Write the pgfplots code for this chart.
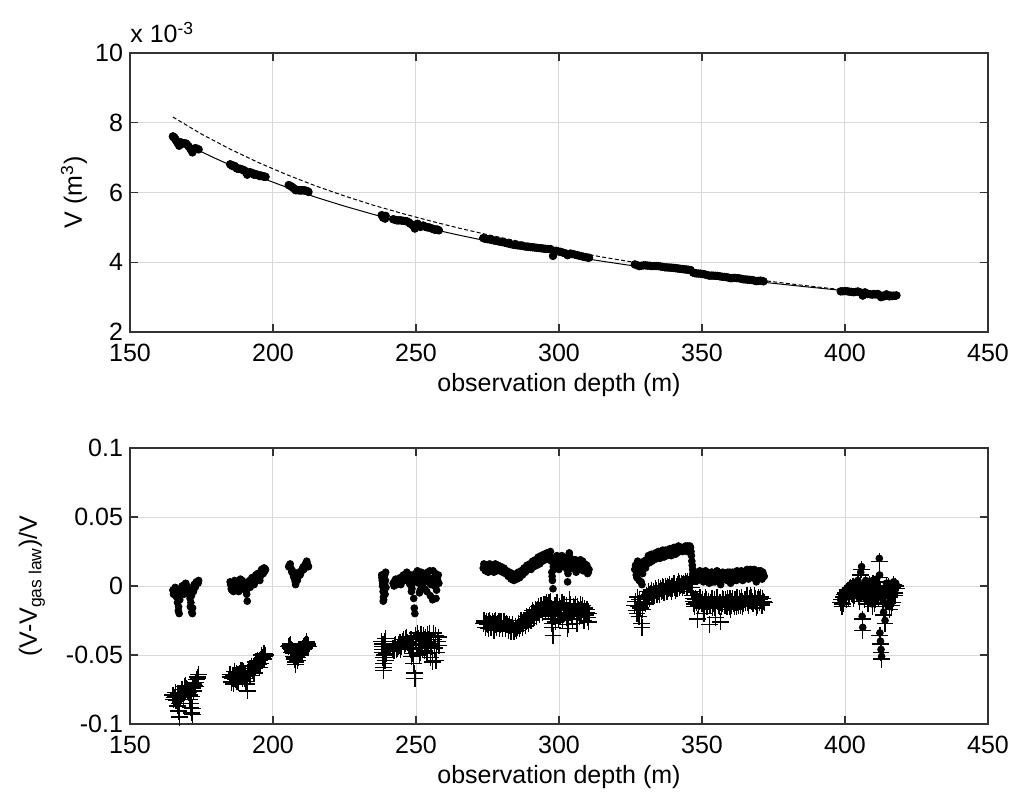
\documentclass[border=0pt]{standalone}
\usepackage{pgfplots}
\usepackage{pgfplotstable}
\pgfplotsset{compat=1.18}
\usepackage{fontspec}
\setmainfont{Liberation Sans}

% residuals: depth, (V-Vfit)/V (dots), (V-Vgas)/V (pluses)
\pgfplotstableread[row sep=\\]{
d rd rp\\
165.0 -0.003 -0.079\\ 165.5 -0.005 -0.081\\ 166.0 -0.004 -0.080\\ 166.3 -0.008 -0.083\\
166.6 -0.012 -0.087\\ 167.0 -0.015 -0.090\\ 167.2 -0.020 -0.095\\ 167.5 -0.006 -0.081\\
168.0 -0.002 -0.077\\ 168.5 -0.004 -0.078\\ 169.0 0.001 -0.073\\ 169.5 0.002 -0.072\\
170.0 -0.001 -0.075\\ 170.5 -0.004 -0.077\\ 171.0 -0.009 -0.082\\ 171.3 -0.012 -0.085\\
171.6 -0.019 -0.092\\ 171.8 -0.020 -0.093\\ 172.2 -0.004 -0.076\\ 172.6 0.000 -0.072\\
173.0 0.002 -0.070\\ 173.5 0.003 -0.066\\ 174.0 0.004 -0.064\\
165.2 -0.006 -0.082\\ 165.8 -0.001 -0.077\\ 166.1 -0.007 -0.083\\ 166.8 -0.003 -0.078\\
167.4 -0.010 -0.085\\ 167.8 -0.004 -0.079\\ 168.2 0.000 -0.075\\ 168.8 -0.006 -0.080\\
169.2 -0.002 -0.076\\ 169.8 0.000 -0.074\\ 170.2 -0.003 -0.076\\ 170.8 -0.006 -0.079\\
171.1 -0.015 -0.088\\ 171.5 -0.007 -0.080\\ 172.0 -0.002 -0.074\\ 172.4 0.001 -0.071\\
172.8 -0.001 -0.073\\ 173.2 0.003 -0.068\\ 173.8 0.002 -0.067\\ 166.9 -0.018 -0.091\\
171.9 -0.016 -0.089\\
185.0 0.003 -0.064\\ 185.4 -0.002 -0.069\\ 185.8 0.000 -0.067\\ 186.2 -0.004 -0.071\\
186.6 0.004 -0.062\\ 187.0 0.001 -0.065\\ 187.4 -0.003 -0.069\\ 187.8 0.002 -0.064\\
188.2 0.000 -0.066\\ 188.6 0.005 -0.061\\ 189.0 0.002 -0.063\\ 189.4 -0.002 -0.067\\
189.8 0.003 -0.062\\ 190.2 0.000 -0.065\\ 190.6 -0.004 -0.069\\ 191.0 -0.011 -0.076\\
191.4 0.001 -0.063\\ 191.8 0.004 -0.060\\ 192.2 0.002 -0.062\\ 192.6 0.006 -0.058\\
193.0 0.003 -0.061\\ 193.4 0.001 -0.063\\ 193.8 0.007 -0.057\\ 194.2 0.005 -0.058\\
194.6 0.009 -0.054\\ 195.0 0.006 -0.057\\ 195.4 0.004 -0.059\\ 195.8 0.010 -0.053\\
196.2 0.011 -0.052\\ 196.6 0.009 -0.053\\ 197.0 0.013 -0.049\\ 197.4 0.012 -0.050\\
185.2 0.001 -0.066\\ 185.6 -0.003 -0.070\\ 186.0 0.002 -0.065\\ 186.4 0.000 -0.067\\
186.8 -0.002 -0.068\\ 187.2 0.003 -0.063\\ 187.6 0.000 -0.066\\ 188.0 -0.004 -0.070\\
188.4 0.003 -0.063\\ 188.8 0.001 -0.065\\ 189.2 0.004 -0.061\\ 189.6 0.000 -0.065\\
190.0 -0.002 -0.067\\ 190.4 0.002 -0.063\\ 190.8 -0.006 -0.071\\ 191.2 0.000 -0.064\\
191.6 0.003 -0.061\\ 192.0 -0.001 -0.065\\ 192.4 0.004 -0.060\\ 192.8 0.002 -0.061\\
193.2 0.005 -0.058\\ 193.6 0.003 -0.060\\ 194.0 0.008 -0.055\\ 194.4 0.006 -0.057\\
194.8 0.007 -0.056\\ 195.2 0.009 -0.054\\ 195.6 0.007 -0.056\\ 196.0 0.012 -0.050\\
196.4 0.010 -0.052\\ 196.8 0.013 -0.049\\ 197.2 0.011 -0.051\\
205.5 0.014 -0.044\\ 206.0 0.016 -0.042\\ 206.4 0.012 -0.046\\ 206.8 0.011 -0.047\\
207.2 0.007 -0.051\\ 207.6 0.005 -0.053\\ 207.9 0.001 -0.057\\ 208.3 0.009 -0.049\\
208.7 0.006 -0.052\\ 209.1 0.010 -0.048\\ 209.5 0.008 -0.050\\ 210.0 0.011 -0.047\\
210.4 0.013 -0.045\\ 210.8 0.012 -0.046\\ 211.2 0.015 -0.043\\ 211.6 0.017 -0.041\\
212.0 0.016 -0.042\\ 212.4 0.014 -0.044\\
205.7 0.015 -0.043\\ 206.2 0.013 -0.045\\ 206.6 0.010 -0.048\\ 207.0 0.009 -0.049\\
207.4 0.006 -0.052\\ 207.8 0.003 -0.055\\ 208.1 0.007 -0.051\\ 208.5 0.004 -0.054\\
208.9 0.008 -0.050\\ 209.3 0.009 -0.049\\ 209.8 0.010 -0.048\\ 210.2 0.012 -0.046\\
210.6 0.014 -0.044\\ 211.0 0.013 -0.045\\ 211.4 0.016 -0.042\\ 211.8 0.018 -0.040\\
212.2 0.015 -0.043\\
238.0 0.008 -0.040\\ 238.2 0.004 -0.044\\ 238.3 0.000 -0.048\\ 238.5 -0.004 -0.052\\
238.6 -0.008 -0.056\\ 238.7 -0.010 -0.061\\ 238.8 0.006 -0.042\\ 239.0 0.002 -0.046\\
239.1 -0.002 -0.050\\ 239.2 -0.006 -0.054\\ 239.4 0.010 -0.038\\ 239.5 -0.001 -0.049\\
238.1 0.006 -0.042\\ 238.4 0.002 -0.046\\ 238.9 -0.004 -0.052\\ 239.3 0.004 -0.044\\
238.55 -0.011 -0.059\\ 239.05 0.008 -0.040\\
242.0 0.002 -0.045\\ 242.6 0.004 -0.043\\ 243.2 0.001 -0.046\\ 243.8 0.003 -0.044\\
244.4 0.006 -0.041\\ 245.0 0.003 -0.044\\ 245.6 0.008 -0.039\\ 246.2 0.005 -0.042\\
246.8 0.010 -0.037\\ 247.4 0.004 -0.043\\ 248.0 0.001 -0.046\\ 248.4 -0.004 -0.051\\
248.8 0.002 -0.045\\ 249.2 -0.009 -0.056\\ 249.4 -0.016 -0.063\\ 249.6 -0.020 -0.067\\
250.0 0.006 -0.039\\ 250.5 0.011 -0.034\\ 251.0 0.002 -0.043\\ 251.5 -0.003 -0.048\\
252.0 0.005 -0.040\\ 252.5 0.009 -0.036\\ 253.0 -0.002 -0.047\\ 253.5 0.004 -0.041\\
254.0 0.010 -0.035\\ 254.5 0.006 -0.039\\ 255.0 -0.007 -0.052\\ 255.5 0.003 -0.042\\
256.0 0.011 -0.034\\ 256.5 0.000 -0.045\\ 257.0 -0.009 -0.054\\ 257.5 0.005 -0.040\\
258.0 0.002 -0.043\\
242.3 0.000 -0.047\\ 242.9 0.005 -0.042\\ 243.5 0.002 -0.045\\ 244.1 0.004 -0.043\\
244.7 0.001 -0.046\\ 245.3 0.007 -0.040\\ 245.9 0.004 -0.043\\ 246.5 0.009 -0.038\\
247.1 0.006 -0.041\\ 247.7 0.002 -0.045\\ 248.2 0.008 -0.039\\ 248.6 -0.002 -0.049\\
249.0 0.004 -0.043\\ 249.8 0.009 -0.036\\ 250.2 0.003 -0.042\\ 250.8 0.007 -0.038\\
251.2 -0.005 -0.050\\ 251.8 0.010 -0.035\\ 252.2 0.000 -0.045\\ 252.8 0.006 -0.039\\
253.2 0.008 -0.037\\ 253.8 -0.004 -0.049\\ 254.2 0.003 -0.042\\ 254.8 0.011 -0.034\\
255.2 0.001 -0.044\\ 255.8 -0.010 -0.055\\ 256.2 0.006 -0.039\\ 256.8 0.009 -0.036\\
257.2 -0.003 -0.048\\ 257.8 0.008 -0.037\\
273.5 0.013 -0.027\\ 274.0 0.014 -0.026\\ 274.5 0.013 -0.027\\ 275.0 0.012 -0.028\\
275.5 0.014 -0.026\\ 276.0 0.013 -0.027\\ 276.5 0.012 -0.028\\ 277.0 0.013 -0.027\\
277.5 0.014 -0.026\\ 278.0 0.012 -0.028\\ 278.5 0.013 -0.027\\ 279.0 0.014 -0.026\\
279.5 0.012 -0.028\\ 280.0 0.013 -0.027\\ 280.5 0.011 -0.027\\ 281.0 0.012 -0.026\\
281.5 0.010 -0.028\\ 282.0 0.010 -0.028\\ 282.5 0.009 -0.029\\ 283.0 0.008 -0.030\\
283.5 0.008 -0.030\\ 284.0 0.007 -0.031\\ 284.5 0.006 -0.032\\ 285.0 0.007 -0.031\\
285.5 0.008 -0.030\\ 286.0 0.009 -0.029\\ 286.5 0.009 -0.029\\ 287.0 0.011 -0.027\\
287.5 0.011 -0.027\\ 288.0 0.013 -0.025\\ 288.5 0.012 -0.026\\ 289.0 0.014 -0.024\\
289.5 0.015 -0.023\\ 290.0 0.014 -0.024\\ 290.5 0.016 -0.020\\ 291.0 0.017 -0.019\\
291.5 0.016 -0.020\\ 292.0 0.018 -0.018\\ 292.5 0.019 -0.017\\ 293.0 0.018 -0.018\\
293.5 0.020 -0.016\\ 294.0 0.021 -0.015\\ 294.5 0.020 -0.016\\ 295.0 0.022 -0.014\\
295.5 0.023 -0.013\\ 296.0 0.022 -0.014\\ 296.5 0.024 -0.012\\ 297.0 0.025 -0.011\\
297.3 0.018 -0.016\\ 297.5 0.010 -0.024\\ 297.7 0.004 -0.030\\ 297.9 -0.002 -0.036\\
298.2 0.012 -0.022\\ 298.6 0.017 -0.017\\ 299.0 0.020 -0.014\\ 299.5 0.016 -0.018\\
300.0 0.012 -0.022\\ 300.5 0.018 -0.016\\ 301.0 0.022 -0.012\\ 301.5 0.019 -0.015\\
302.0 0.014 -0.020\\ 302.5 0.020 -0.014\\ 303.0 0.003 -0.031\\ 303.3 0.015 -0.019\\
303.6 0.024 -0.010\\ 304.0 0.018 -0.016\\ 304.5 0.013 -0.021\\ 305.0 0.019 -0.015\\
305.5 0.016 -0.016\\ 306.0 0.010 -0.022\\ 306.5 0.017 -0.015\\ 307.0 0.014 -0.018\\
307.5 0.019 -0.013\\ 308.0 0.015 -0.017\\ 308.5 0.011 -0.021\\ 309.0 0.016 -0.016\\
309.5 0.013 -0.019\\ 310.0 0.009 -0.023\\ 310.5 0.012 -0.020\\
273.75 0.016 -0.025\\ 274.25 0.011 -0.030\\ 274.75 0.015 -0.026\\ 275.25 0.010 -0.031\\
275.75 0.016 -0.025\\ 276.25 0.011 -0.030\\ 276.75 0.015 -0.026\\ 277.25 0.010 -0.032\\
277.75 0.016 -0.025\\ 278.25 0.011 -0.030\\ 278.75 0.015 -0.027\\ 279.25 0.011 -0.031\\
279.75 0.014 -0.026\\ 280.25 0.010 -0.031\\ 280.75 0.013 -0.026\\ 281.25 0.009 -0.031\\
281.75 0.011 -0.027\\ 282.25 0.007 -0.032\\ 282.75 0.010 -0.028\\ 283.25 0.005 -0.033\\
283.75 0.009 -0.028\\ 284.25 0.004 -0.033\\ 284.75 0.008 -0.029\\ 285.25 0.005 -0.032\\
285.75 0.010 -0.027\\ 286.25 0.006 -0.031\\ 286.75 0.011 -0.025\\ 287.25 0.008 -0.030\\
287.75 0.013 -0.025\\ 288.25 0.010 -0.029\\ 288.75 0.015 -0.022\\ 289.25 0.012 -0.027\\
289.75 0.016 -0.021\\ 290.25 0.012 -0.025\\ 290.75 0.018 -0.018\\ 291.25 0.014 -0.023\\
291.75 0.019 -0.017\\ 292.25 0.015 -0.022\\ 292.75 0.021 -0.015\\ 293.25 0.016 -0.021\\
293.75 0.022 -0.014\\ 294.25 0.018 -0.019\\ 294.75 0.023 -0.013\\ 295.25 0.019 -0.018\\
295.75 0.024 -0.012\\ 296.25 0.020 -0.017\\ 296.75 0.022 -0.014\\ 297.15 0.021 -0.021\\
297.6 0.007 -0.027\\ 298.0 0.014 -0.020\\ 298.4 0.020 -0.014\\ 298.8 0.015 -0.026\\
299.25 0.022 -0.012\\ 299.75 0.013 -0.024\\ 300.25 0.019 -0.015\\ 300.75 0.015 -0.020\\
301.25 0.016 -0.025\\ 301.75 0.021 -0.013\\ 302.25 0.017 -0.018\\ 302.75 0.012 -0.023\\
303.15 0.009 -0.028\\ 303.8 0.021 -0.013\\ 304.25 0.015 -0.019\\ 304.75 0.017 -0.024\\
305.25 0.014 -0.018\\ 305.75 0.019 -0.013\\ 306.25 0.013 -0.027\\ 306.75 0.015 -0.017\\
307.25 0.017 -0.022\\ 307.75 0.012 -0.020\\ 308.25 0.018 -0.014\\ 308.75 0.014 -0.025\\
309.25 0.011 -0.021\\ 309.75 0.015 -0.017\\ 310.25 0.010 -0.026\\
326.5 0.012 -0.014\\ 327.0 0.008 -0.018\\ 327.5 0.018 -0.008\\ 328.0 0.004 -0.022\\
328.5 0.010 -0.016\\ 329.0 0.001 -0.030\\ 329.5 0.014 -0.012\\ 330.0 0.016 -0.010\\
330.5 0.019 -0.007\\ 331.0 0.017 -0.009\\ 331.5 0.020 -0.006\\ 332.0 0.021 -0.005\\
332.5 0.018 -0.008\\ 333.0 0.022 -0.004\\ 333.5 0.020 -0.006\\ 334.0 0.023 -0.003\\
334.5 0.021 -0.005\\ 335.0 0.022 -0.004\\ 335.5 0.024 -0.002\\ 336.0 0.023 -0.003\\
336.5 0.025 -0.001\\ 337.0 0.022 -0.004\\ 337.5 0.024 -0.002\\ 338.0 0.026 0.000\\
338.5 0.025 -0.001\\ 339.0 0.024 -0.002\\ 339.5 0.026 0.000\\ 340.0 0.027 0.001\\
340.5 0.025 -0.001\\ 341.0 0.026 0.000\\ 341.5 0.027 0.001\\ 342.0 0.028 0.002\\
342.5 0.026 0.000\\ 343.0 0.027 0.001\\ 343.5 0.028 0.002\\ 344.0 0.027 0.001\\
344.5 0.028 0.002\\ 345.0 0.029 0.003\\ 345.5 0.027 0.001\\ 346.0 0.028 0.002\\
346.3 0.022 0.003\\ 346.6 0.015 -0.004\\ 346.9 0.010 -0.009\\ 347.2 0.006 -0.013\\
347.6 0.009 -0.010\\ 348.0 0.007 -0.012\\ 348.5 0.004 -0.024\\ 349.0 0.008 -0.011\\
349.5 0.010 -0.009\\ 350.0 0.006 -0.013\\ 350.5 0.003 -0.016\\ 351.0 0.008 -0.011\\
351.5 0.009 -0.010\\ 352.0 0.005 -0.014\\ 352.5 0.002 -0.028\\ 353.0 0.007 -0.012\\
353.5 0.010 -0.009\\ 354.0 0.006 -0.013\\ 354.5 0.003 -0.016\\ 355.0 0.009 -0.010\\
355.5 0.008 -0.011\\ 356.0 0.004 -0.015\\ 356.5 0.001 -0.026\\ 357.0 0.006 -0.013\\
357.5 0.009 -0.010\\ 358.0 0.005 -0.014\\ 358.5 0.007 -0.012\\ 359.0 0.010 -0.009\\
359.5 0.004 -0.015\\ 360.0 0.002 -0.017\\ 360.5 0.008 -0.011\\ 361.0 0.006 -0.013\\
361.5 0.009 -0.010\\ 362.0 0.004 -0.015\\ 362.5 0.007 -0.012\\ 363.0 0.010 -0.009\\
363.5 0.005 -0.014\\ 364.0 0.008 -0.011\\ 364.5 0.006 -0.013\\ 365.0 0.009 -0.010\\
365.5 0.011 -0.008\\ 366.0 0.007 -0.012\\ 366.5 0.010 -0.009\\ 367.0 0.012 -0.007\\
367.5 0.008 -0.011\\ 368.0 0.006 -0.013\\ 368.5 0.010 -0.009\\ 369.0 0.003 -0.016\\
369.5 0.009 -0.010\\ 370.0 0.007 -0.012\\ 370.5 0.011 -0.008\\ 371.0 0.005 -0.014\\
371.5 0.008 -0.011\\
326.75 0.015 -0.011\\ 327.25 0.006 -0.020\\ 327.75 0.011 -0.015\\ 328.25 0.016 -0.010\\
328.75 0.003 -0.027\\ 329.25 0.009 -0.017\\ 329.75 0.018 -0.008\\ 330.25 0.013 -0.013\\
330.75 0.016 -0.010\\ 331.25 0.022 -0.004\\ 331.75 0.017 -0.009\\ 332.25 0.023 -0.003\\
332.75 0.020 -0.006\\ 333.25 0.019 -0.007\\ 333.75 0.024 -0.002\\ 334.25 0.020 -0.006\\
334.75 0.025 -0.001\\ 335.25 0.020 -0.006\\ 335.75 0.022 -0.004\\ 336.25 0.026 0.000\\
336.75 0.021 -0.005\\ 337.25 0.026 0.000\\ 337.75 0.022 -0.004\\ 338.25 0.024 -0.002\\
338.75 0.027 0.001\\ 339.25 0.022 -0.004\\ 339.75 0.024 -0.002\\ 340.25 0.028 0.002\\
340.75 0.023 -0.003\\ 341.25 0.024 -0.002\\ 341.75 0.029 0.003\\ 342.25 0.025 -0.001\\
342.75 0.028 0.002\\ 343.25 0.025 -0.001\\ 343.75 0.026 0.000\\ 344.25 0.029 0.003\\
344.75 0.025 -0.001\\ 345.25 0.027 0.001\\ 345.75 0.029 0.003\\ 346.15 0.025 -0.001\\
346.45 0.018 -0.001\\ 346.75 0.012 -0.007\\ 347.0 0.008 -0.011\\ 347.4 0.004 -0.015\\
347.8 0.010 -0.009\\ 348.25 0.009 -0.010\\ 348.75 0.005 -0.014\\ 349.25 0.011 -0.008\\
349.75 0.007 -0.012\\ 350.25 0.009 -0.010\\ 350.75 0.006 -0.020\\ 351.25 0.011 -0.008\\
351.75 0.004 -0.015\\ 352.25 0.008 -0.011\\ 352.75 0.005 -0.014\\ 353.25 0.010 -0.009\\
353.75 0.003 -0.016\\ 354.25 0.009 -0.010\\ 354.75 0.006 -0.023\\ 355.25 0.011 -0.008\\
355.75 0.005 -0.014\\ 356.25 0.007 -0.012\\ 356.75 0.004 -0.015\\ 357.25 0.010 -0.009\\
357.75 0.006 -0.013\\ 358.25 0.009 -0.010\\ 358.75 0.004 -0.015\\ 359.25 0.007 -0.012\\
359.75 0.010 -0.009\\ 360.25 0.005 -0.014\\ 360.75 0.010 -0.009\\ 361.25 0.004 -0.015\\
361.75 0.007 -0.012\\ 362.25 0.011 -0.008\\ 362.75 0.005 -0.014\\ 363.25 0.008 -0.011\\
363.75 0.011 -0.008\\ 364.25 0.004 -0.015\\ 364.75 0.009 -0.010\\ 365.25 0.007 -0.012\\
365.75 0.012 -0.007\\ 366.25 0.005 -0.014\\ 366.75 0.009 -0.010\\ 367.25 0.011 -0.008\\
367.75 0.006 -0.013\\ 368.25 0.012 -0.007\\ 368.75 0.008 -0.011\\ 369.25 0.005 -0.014\\
369.75 0.011 -0.008\\ 370.25 0.009 -0.010\\ 370.75 0.006 -0.013\\ 371.25 0.010 -0.009\\
371.75 0.007 -0.012\\
398.5 -0.010 -0.012\\ 399.0 -0.013 -0.015\\ 399.5 -0.006 -0.008\\ 400.0 -0.003 -0.005\\
400.5 -0.008 -0.010\\ 401.0 -0.001 -0.003\\ 401.5 -0.005 -0.007\\ 402.0 0.001 -0.001\\
402.5 -0.004 -0.006\\ 403.0 -0.007 -0.009\\ 403.5 0.000 -0.002\\ 404.0 -0.002 -0.004\\
404.5 0.004 0.002\\ 405.0 -0.009 -0.011\\ 405.5 0.010 0.008\\ 405.8 0.014 0.012\\
406.0 -0.022 -0.024\\ 406.2 -0.030 -0.032\\ 406.5 -0.003 -0.005\\ 407.0 0.002 0.000\\
407.5 -0.006 -0.008\\ 408.0 -0.011 -0.013\\ 408.5 0.003 0.001\\ 409.0 -0.004 -0.006\\
409.5 -0.013 -0.015\\ 410.0 0.001 -0.001\\ 410.5 -0.008 -0.010\\ 411.0 0.005 0.003\\
411.5 -0.002 -0.004\\ 412.0 0.020 0.018\\ 412.2 -0.034 -0.036\\ 412.4 -0.040 -0.042\\
412.6 -0.046 -0.048\\ 412.8 -0.051 -0.053\\ 413.0 -0.003 -0.005\\ 413.5 -0.019 -0.021\\
414.0 -0.025 -0.027\\ 414.5 0.002 0.000\\ 415.0 -0.007 -0.009\\ 415.5 -0.015 -0.017\\
416.0 -0.001 -0.003\\ 416.5 -0.010 -0.012\\ 417.0 0.003 0.001\\ 417.5 -0.005 -0.007\\
418.0 0.000 -0.002\\
398.75 -0.008 -0.010\\ 399.25 -0.011 -0.013\\ 399.75 -0.004 -0.006\\ 400.25 -0.006 -0.008\\
400.75 -0.002 -0.004\\ 401.25 -0.007 -0.009\\ 401.75 0.000 -0.002\\ 402.25 -0.003 -0.005\\
402.75 0.002 0.000\\ 403.25 -0.005 -0.007\\ 403.75 -0.001 -0.003\\ 404.25 0.003 0.001\\
404.75 -0.006 -0.008\\ 405.25 0.001 -0.001\\ 406.75 -0.008 -0.010\\ 407.25 0.004 0.002\\
407.75 -0.002 -0.004\\ 408.25 -0.009 -0.011\\ 408.75 0.000 -0.002\\ 409.25 -0.006 -0.008\\
409.75 0.004 0.002\\ 410.25 -0.011 -0.013\\ 410.75 -0.003 -0.005\\ 411.25 0.001 -0.001\\
411.75 -0.007 -0.009\\ 412.1 0.008 0.006\\ 413.25 -0.010 -0.012\\ 413.75 -0.004 -0.006\\
414.25 -0.013 -0.015\\ 414.75 -0.002 -0.004\\ 415.25 0.002 0.000\\ 415.75 -0.006 -0.008\\
416.25 -0.012 -0.014\\ 416.75 0.001 -0.001\\ 417.25 -0.003 -0.005\\ 417.75 0.002 0.000\\
}\resid

\pgfplotsset{
  matlab/.style={
    scale only axis, width=429pt,
    xmin=150, xmax=450,
    xtick={150,200,250,300,350,400,450},
    xticklabels={150,200,250,300,350,400,450},
    xtick pos=both, ytick pos=both,
    tick align=inside, major tick length=4pt,
    axis line style={black!80, line width=0.6pt},
    tick style={black!80, line width=0.6pt},
    grid=major, major grid style={black!15, line width=0.5pt},
    tick label style={font=\fontsize{12.5}{15}\selectfont},
    xticklabel style={yshift=-2.5pt},
    label style={font=\fontsize{13}{15}\selectfont},
    xlabel={observation depth (m)},
    every axis x label/.style={at={(axis description cs:0.5,0)}, anchor=north, yshift=-20.5pt, inner sep=0pt},
    scaled y ticks=false,
  }
}

\begin{document}
\begin{tikzpicture}[font=\fontsize{12.5}{15}\selectfont]
% top: volume against depth
\begin{axis}[matlab, at={(0,0)}, anchor=south west, height=139.5pt,
    ymin=2, ymax=10, ytick={2,4,6,8,10}, yticklabels={2,4,6,8,10},
    ylabel={V (m\textsuperscript{3})},
    every axis y label/.style={at={(axis description cs:-0.056,0.5)}, rotate=90, anchor=base, inner sep=0pt},
  ]
  % gas law
  \addplot[black, line width=0.5pt, dash pattern=on 2pt off 1.2pt] coordinates {
    (165,8.165) (175,7.676) (185,7.244) (195,6.856) (205,6.505) (215,6.187) (225,5.901)
    (235,5.638) (245,5.403) (255,5.185) (265,4.979) (275,4.791) (285,4.617) (295,4.451)
    (305,4.298) (315,4.152) (325,4.015) (335,3.889) (345,3.767) (355,3.651) (365,3.542)
    (375,3.439) (385,3.341) (395,3.248) (405,3.159) (418,3.056)
  };
  % fit
  \addplot[black, line width=0.5pt] coordinates {
    (165,7.588) (170,7.371) (175,7.167) (180,6.973) (185,6.789) (195,6.450) (205,6.143)
    (215,5.864) (225,5.609) (235,5.375) (245,5.160) (255,4.962) (265,4.778) (275,4.607)
    (285,4.448) (295,4.300) (305,4.161) (315,4.031) (325,3.909) (335,3.794) (345,3.686)
    (355,3.583) (365,3.486) (375,3.395) (385,3.308) (395,3.225) (405,3.146) (418,3.050)
  };
  % observations
  \addplot[only marks, mark=*, mark size=1.9pt, black] coordinates {
    (165.0,7.610) (165.5,7.580) (166.0,7.514) (166.6,7.427) (167.2,7.341) (167.5,7.433)
    (168.5,7.405) (169.5,7.408) (170.5,7.321) (171.3,7.229) (171.8,7.150) (172.6,7.264)
    (173.5,7.249) (174.0,7.236)
    (165.2,7.59) (165.8,7.53) (166.3,7.47) (166.9,7.40) (167.8,7.44) (168.0,7.42)
    (169.0,7.41) (170.0,7.37) (171.0,7.27) (172.2,7.22) (173.0,7.27)
    (185.0,6.809) (185.8,6.761) (186.6,6.760) (187.4,6.685) (188.2,6.677) (189.0,6.662)
    (189.8,6.642) (190.6,6.569) (191.0,6.510) (191.8,6.581) (192.6,6.567) (193.4,6.509)
    (194.2,6.508) (195.0,6.489) (195.8,6.488) (196.6,6.457) (197.4,6.450)
    (185.4,6.790) (186.2,6.770) (187.0,6.720) (187.8,6.690) (188.6,6.680) (189.4,6.650)
    (190.2,6.620) (191.4,6.560) (192.2,6.570) (193.0,6.540) (193.8,6.530) (194.6,6.510)
    (195.4,6.470) (196.2,6.470) (197.0,6.460)
    (205.5,6.214) (206.4,6.175) (207.2,6.122) (207.9,6.065) (208.7,6.072) (209.5,6.062)
    (210.4,6.067) (211.2,6.057) (212.0,6.040) (212.4,6.017)
    (205.8,6.20) (206.8,6.15) (208.3,6.07) (209.1,6.06) (210.0,6.06) (210.8,6.06) (211.6,6.05)
    (238.0,5.351) (238.5,5.277) (238.8,5.323) (239.2,5.251) (239.4,5.331)
    (242.0,5.233) (243.2,5.202) (244.4,5.203) (245.6,5.188) (246.8,5.174) (248.0,5.104)
    (249.2,5.029) (249.6,4.966) (250.5,5.105) (251.5,5.014) (252.5,5.055) (253.5,5.010)
    (254.5,5.001) (255.5,4.967) (256.5,4.933) (257.5,4.939) (258.0,4.915)
    (242.6,5.220) (243.8,5.200) (245.0,5.196) (246.2,5.180) (247.4,5.150) (248.6,5.080)
    (250.0,5.080) (251.0,5.060) (252.0,5.030) (253.0,5.030) (254.0,5.000) (255.0,4.985)
    (256.0,4.955) (257.0,4.936)
    (273.5,4.692) (275.0,4.662) (276.5,4.638) (278.0,4.613) (279.5,4.588) (281.0,4.564)
    (282.5,4.532) (284.0,4.504) (285.5,4.485) (287.0,4.471) (288.5,4.448) (290.0,4.434)
    (291.5,4.422) (293.0,4.407) (294.5,4.393) (296.0,4.380) (297.0,4.379) (297.9,4.182)
    (299.0,4.328) (300.5,4.299) (302.0,4.261) (303.0,4.201) (304.0,4.250) (305.5,4.221)
    (307.0,4.190) (308.5,4.159) (310.0,4.132)
    (274.25,4.670) (275.75,4.655) (277.25,4.625) (278.75,4.600) (280.25,4.576) (281.75,4.548)
    (283.25,4.516) (284.75,4.493) (286.25,4.480) (287.75,4.458) (289.25,4.442) (290.75,4.430)
    (292.25,4.415) (293.75,4.400) (295.25,4.386) (298.5,4.320) (299.75,4.310) (301.25,4.280)
    (302.75,4.240) (304.75,4.235) (306.25,4.205) (307.75,4.175) (309.25,4.148) (310.5,4.130)
    (326.5,3.938) (328.0,3.889) (329.5,3.910) (331.0,3.904) (332.5,3.891) (334.0,3.893)
    (335.5,3.880) (337.0,3.855) (338.5,3.849) (340.0,3.840) (341.5,3.824) (343.0,3.807)
    (344.5,3.794) (346.0,3.778) (346.9,3.702) (348.0,3.680) (349.5,3.674) (351.0,3.652)
    (352.5,3.615) (354.0,3.615) (355.5,3.607) (357.0,3.585) (358.5,3.574) (360.0,3.541)
    (361.5,3.552) (363.0,3.540) (364.5,3.512) (366.0,3.501) (367.5,3.491) (369.0,3.459)
    (370.5,3.473) (371.5,3.453)
    (327.25,3.920) (328.75,3.900) (330.25,3.912) (331.75,3.900) (333.25,3.893) (334.75,3.888)
    (336.25,3.868) (337.75,3.852) (339.25,3.845) (340.75,3.832) (342.25,3.815) (343.75,3.800)
    (345.25,3.786) (347.5,3.690) (348.75,3.676) (350.25,3.662) (351.75,3.635) (353.25,3.618)
    (354.75,3.612) (356.25,3.596) (357.75,3.580) (359.25,3.560) (360.75,3.548) (362.25,3.545)
    (363.75,3.525) (365.25,3.506) (366.75,3.497) (368.25,3.475) (369.75,3.466) (371.0,3.462)
    (398.5,3.165) (400.0,3.175) (401.5,3.157) (403.0,3.140) (404.5,3.163) (406.2,3.043)
    (407.0,3.137) (408.0,3.089) (409.5,3.072) (410.5,3.077) (411.5,3.091) (412.6,2.997)
    (413.5,3.024) (414.5,3.081) (415.5,3.022) (416.5,3.030) (417.5,3.038) (418.0,3.050)
    (399.25,3.168) (400.75,3.168) (402.25,3.150) (403.75,3.150) (405.25,3.140) (406.6,3.120)
    (407.5,3.110) (408.75,3.082) (410.0,3.090) (411.0,3.085) (412.0,3.055) (413.0,3.040)
    (414.0,3.030) (415.0,3.050) (416.0,3.045) (417.0,3.042)
  };
\end{axis}
\node[anchor=base west, inner sep=0pt] at (0,144.5pt) {x 10\textsuperscript{-3}};

% bottom: relative residuals
\begin{axis}[matlab, at={(0,-196pt)}, anchor=south west, height=138pt,
    ymin=-0.1, ymax=0.1, ytick={-0.1,-0.05,0,0.05,0.1},
    yticklabels={-0.1,-0.05,0,0.05,0.1},
    ylabel={(V-V\textsubscript{gas law})/V},
    every axis y label/.style={at={(axis description cs:-0.1084,0.5)}, rotate=90, anchor=base, inner sep=0pt},
  ]
  \addplot[only marks, mark=+, mark size=4.2pt, black, mark options={line width=0.65pt}]
    table[x=d, y=rp] {\resid};
  \addplot[only marks, mark=*, mark size=1.7pt, black]
    table[x=d, y=rd] {\resid};
\end{axis}

\pgfresetboundingbox
\path[use as bounding box] (-65pt,-230.5pt) rectangle (441.5pt,166pt);
\end{tikzpicture}
\end{document}
